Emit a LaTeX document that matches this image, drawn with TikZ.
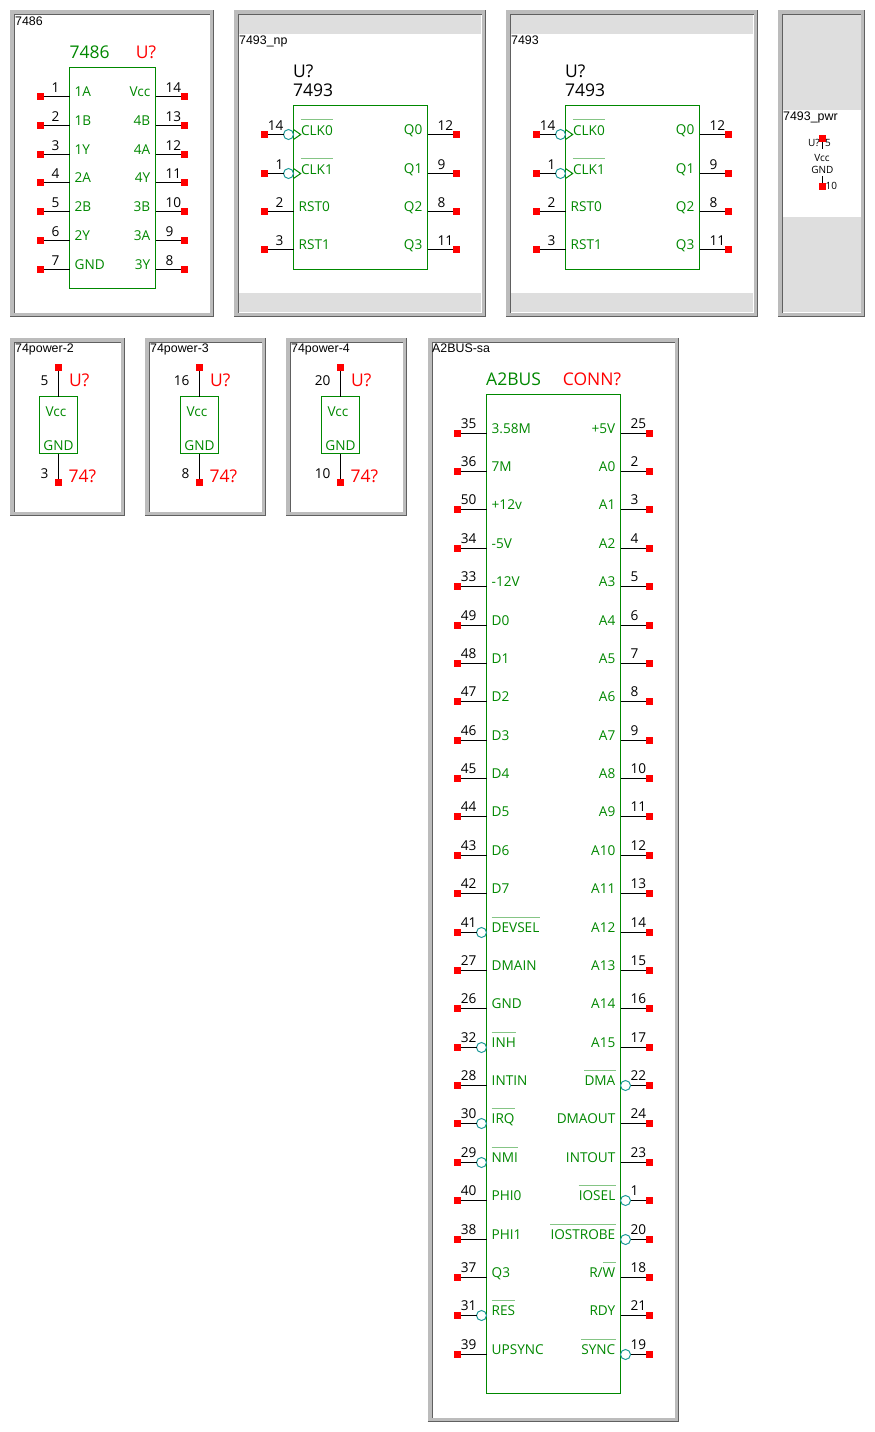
\documentclass[tikz,border=0pt]{standalone}
\usepackage{fontspec}
\usetikzlibrary{positioning}
\setmainfont{Open Sans}
\newfontfamily\titlefont{Liberation Sans}
\definecolor{partgreen}{HTML}{008800}
\definecolor{barsgreen}{HTML}{85C585}
\definecolor{bubbleteal}{HTML}{1F9A9A}
\definecolor{framelight}{HTML}{BCBCBC}
\definecolor{framedark}{HTML}{606060}
\definecolor{stripgray}{HTML}{DEDEDE}

\newcommand{\numlift}{4.3pt}
% sunken panel frame: x0, y0, x1, y1
\newcommand{\panelframe}[4]{%
  \fill[framelight] (#1,#2) rectangle (#3,#4);
  \fill[white] (#1+4,#2+4) rectangle (#3-4,#4-4);
  \draw[framedark] (#1,#4-.5) -- (#3-.5,#4-.5) -- (#3-.5,#2);
  \draw[framedark] (#1+4.5,#4-4) -- (#1+4.5,#2+4.5) -- (#3-4,#2+4.5);
}
% pins: body, id, y, number, label
\newcommand{\pinleft}[5]{%
  \node[pinpad] (#2) at ([xshift=-29pt]#1.west |- 0,#3) {};
  \draw[wire] (#2) -- (#1.west |- #2);
  \node[pinnum, anchor=base east] at ([xshift=-10pt,yshift=\numlift]#1.west |- #2) {#4};
  \node[pinlab, anchor=base west] (#2l) at ([xshift=5pt]#1.west |- #2) {#5};
}
\newcommand{\pinright}[5]{%
  \node[pinpad] (#2) at ([xshift=29pt]#1.east |- 0,#3) {};
  \draw[wire] (#2) -- (#1.east |- #2);
  \node[pinnum, anchor=base west] at ([xshift=10pt,yshift=\numlift]#1.east |- #2) {#4};
  \node[pinlab, anchor=base east] (#2l) at ([xshift=-5pt]#1.east |- #2) {#5};
}
\newcommand{\notleft}[5]{%
  \node[pinpad] (#2) at ([xshift=-29pt]#1.west |- 0,#3) {};
  \node[bubble] (#2n) at ([xshift=-5pt]#1.west |- #2) {};
  \draw[wire] (#2) -- (#2n);
  \node[pinnum, anchor=base east] at ([xshift=-10pt,yshift=\numlift]#1.west |- #2) {#4};
  \node[pinlab, anchor=base west] (#2l) at ([xshift=5pt]#1.west |- #2) {#5};
  \draw[overbar] ([yshift=15pt]#2l.base west) -- ([yshift=15pt]#2l.base east);
}
\newcommand{\notright}[5]{%
  \node[pinpad] (#2) at ([xshift=29pt]#1.east |- 0,#3) {};
  \node[bubble] (#2n) at ([xshift=5pt]#1.east |- #2) {};
  \draw[wire] (#2) -- (#2n);
  \node[pinnum, anchor=base west] at ([xshift=10pt,yshift=\numlift]#1.east |- #2) {#4};
  \node[pinlab, anchor=base east] (#2l) at ([xshift=-5pt]#1.east |- #2) {#5};
  \draw[overbar] ([yshift=15pt]#2l.base west) -- ([yshift=15pt]#2l.base east);
}
\newcommand{\clockleft}[5]{%
  \node[pinpad] (#2) at ([xshift=-29pt]#1.west |- 0,#3) {};
  \node[bubble] (#2n) at ([xshift=-5pt]#1.west |- #2) {};
  \draw[wire] (#2) -- (#2n);
  \node[pinnum, anchor=base east] at ([xshift=-10pt,yshift=\numlift]#1.west |- #2) {#4};
  \node[pinlab, anchor=base west] (#2l) at ([xshift=7.4pt,yshift=-.5pt]#1.west |- #2) {#5};
  \draw[overbar] ([yshift=15.5pt]#2l.base west) -- ([yshift=15.5pt]#2l.base east);
  \draw[chipline] ([yshift=5pt]#1.west |- #2) -- ([xshift=7.2pt]#1.west |- #2) -- ([yshift=-5pt]#1.west |- #2);
}

\begin{document}
\begin{tikzpicture}[
  x=1pt, y=-1pt,
  chipline/.style = {partgreen, line width=1pt},
  chipbody/.style = {draw=partgreen, line width=1pt, inner sep=0pt, outer sep=0pt, anchor=north west},
  wire/.style = {black, line width=1pt},
  overbar/.style = {barsgreen, line width=1pt},
  pinpad/.style = {fill=red, minimum size=7pt, inner sep=0pt, outer sep=0pt},
  bubble/.style = {circle, draw=bubbleteal, line width=1pt, minimum size=10pt, inner sep=0pt, outer sep=0pt},
  pinnum/.style = {font=\fontsize{13.6}{13.6}\selectfont, text=black, inner sep=0pt},
  pinlab/.style = {font=\fontsize{13.6}{13.6}\selectfont, text=partgreen, inner sep=0pt},
  partname/.style = {font=\fontsize{17.5}{17.5}\selectfont, inner sep=0pt, anchor=base west},
  paneltitle/.style = {font=\titlefont\fontsize{12.4}{12.4}\selectfont, text=black, inner sep=0pt, anchor=base west},
  tinytext/.style = {font=\fontsize{10}{10}\selectfont, text=black, inner sep=0pt}
]
  \useasboundingbox (0,0) rectangle (875,1432);
  \fill[white] (0,0) rectangle (875,1432);

  % 7486
  \panelframe{10}{10}{213.5}{316.5}
  \node[paneltitle] (t7486) at (15,25) {7486};
  \node[chipbody, minimum width=86pt, minimum height=221pt] (u7486) at (69.5,67.5) {};
  \node[partname, text=partgreen] (n7486) at (69.3,58) {7486};
  \node[partname, text=red] (r7486) at (135.7,58) {U?};
  \foreach \n/\py/\txt in {1/96.5/1A, 2/125.5/1B, 3/154.5/1Y, 4/182.5/2A, 5/211.5/2B, 6/240.5/2Y, 7/269.5/GND}
    {\pinleft{u7486}{a\n}{\py}{\n}{\txt}}
  \foreach \n/\py/\txt in {14/96.5/Vcc, 13/125.5/4B, 12/154.5/4A, 11/182.5/4Y, 10/211.5/3B, 9/240.5/3A, 8/269.5/3Y}
    {\pinright{u7486}{a\n}{\py}{\n}{\txt}}

  % 7493 and 7493_np
  \foreach \id/\dx/\ttl in {np/0/7493\_np, pl/272/7493} {
    \begin{scope}[xshift=\dx pt]
      \panelframe{234}{10}{485.5}{316.5}
      \fill[stripgray] (239,15) rectangle (481,34);
      \fill[stripgray] (239,293) rectangle (481,312);
      \node[paneltitle] (t\id) at (239,44.5) {\ttl};
      \node[chipbody, minimum width=134pt, minimum height=164pt] (u\id) at (293.5,105.5) {};
      \node[partname, text=black] (r\id) at (293,77.3) {U?};
      \node[partname, text=black] (n\id) at (293,96.5) {7493};
      \clockleft{u\id}{\id a}{134.5}{14}{CLK0}
      \clockleft{u\id}{\id b}{173.5}{1}{CLK1}
      \pinleft{u\id}{\id c}{211.5}{2}{RST0}
      \pinleft{u\id}{\id d}{249.5}{3}{RST1}
      \pinright{u\id}{\id e}{134.5}{12}{Q0}
      \pinright{u\id}{\id f}{173.5}{9}{Q1}
      \pinright{u\id}{\id g}{211.5}{8}{Q2}
      \pinright{u\id}{\id h}{249.5}{11}{Q3}
    \end{scope}
  }

  % 7493_pwr
  \panelframe{778}{10}{864.5}{316.5}
  \fill[stripgray] (783,15) rectangle (860.5,110);
  \fill[stripgray] (783,216.7) rectangle (860.5,312);
  \node[paneltitle] (tpwr) at (783,120.3) {7493\_pwr};
  \node[pinpad] (ptop) at (822.5,138.5) {};
  \node[pinpad] (pbot) at (822.5,186) {};
  \coordinate (ctop) at (822.5,148.7);
  \coordinate (cbot) at (822.5,176);
  \draw[wire] (ptop) -- (ctop);
  \draw[wire] (pbot) -- (cbot);
  \node[tinytext] (rpwr) at (813.8,142.7) {U?};
  \node[tinytext] (ntop) at (828,142.7) {5};
  \node[tinytext] (lvcc) at (822,157.7) {Vcc};
  \node[tinytext] (lgnd) at (822.3,170) {GND};
  \node[tinytext] (nbot) at (831.3,186) {10};

  % 74power-2, 74power-3, 74power-4
  \foreach \n/\cx/\numa/\numb/\lft in {2/58.5/5/3/10, 3/199.5/16/8/145, 4/340.5/20/10/286} {
    \panelframe{\lft}{337.5}{\cx+66.2}{515.5}
    \node[paneltitle] (tp\n) at (\lft+5,352.5) {74power-\n};
    \node[chipbody, minimum width=38pt, minimum height=57pt] (up\n) at (\cx-19,396.5) {};
    \node[pinpad] (pa\n) at (\cx,367.5) {};
    \node[pinpad] (pb\n) at (\cx,482.5) {};
    \draw[wire] (pa\n) -- (pa\n |- up\n.north);
    \draw[wire] (pb\n) -- (pb\n |- up\n.south);
    \node[pinnum, anchor=base east] (na\n) at (\cx-10,385.3) {\numa};
    \node[pinnum, anchor=base east] (nb\n) at (\cx-10,478) {\numb};
    \node[partname, text=red] (rp\n) at (\cx+10.5,386) {U?};
    \node[partname, text=red] (vp\n) at (\cx+10,482) {74?};
    \node[pinlab, anchor=base] (lv\n) at (\cx-2.5,416) {Vcc};
    \node[pinlab, anchor=base] (lg\n) at (\cx,450) {GND};
  }

  % A2BUS-sa
  \renewcommand{\numlift}{5.2pt}
  \panelframe{427.5}{337.5}{679}{1421.5}
  \node[paneltitle] (tbus) at (432,352.5) {A2BUS-sa};
  \node[chipbody, minimum width=134pt, minimum height=999pt] (ubus) at (486.5,394.5) {};
  \node[partname, text=partgreen] (nbus) at (486,385) {A2BUS};
  \node[partname, text=red] (rbus) at (562.7,385) {CONN?};
  \foreach \n/\txt/\kind [count=\i from 0] in {35/3.58M/pinleft, 36/7M/pinleft, 50/+12v/pinleft, 34/-5V/pinleft,
      33/-12V/pinleft, 49/D0/pinleft, 48/D1/pinleft, 47/D2/pinleft, 46/D3/pinleft, 45/D4/pinleft, 44/D5/pinleft,
      43/D6/pinleft, 42/D7/pinleft, 41/DEVSEL/notleft, 27/DMAIN/pinleft, 26/GND/pinleft, 32/INH/notleft,
      28/INTIN/pinleft, 30/IRQ/notleft, 29/NMI/notleft, 40/PHI0/pinleft, 38/PHI1/pinleft, 37/Q3/pinleft,
      31/RES/notleft, 39/UPSYNC/pinleft} {
    \pgfmathsetmacro\py{floor(433.2+38.375*\i)+.5}
    \csname\kind\endcsname{ubus}{bl\n}{\py}{\n}{\txt}
  }
  \foreach \n/\txt/\kind [count=\i from 0] in {25/+5V/pinright, 2/A0/pinright, 3/A1/pinright, 4/A2/pinright,
      5/A3/pinright, 6/A4/pinright, 7/A5/pinright, 8/A6/pinright, 9/A7/pinright, 10/A8/pinright, 11/A9/pinright,
      12/A10/pinright, 13/A11/pinright, 14/A12/pinright, 15/A13/pinright, 16/A14/pinright, 17/A15/pinright,
      22/DMA/notright, 24/DMAOUT/pinright, 23/INTOUT/pinright, 1/IOSEL/notright, 20/IOSTROBE/notright,
      18/{R/W}/pinright, 21/RDY/pinright, 19/SYNC/notright} {
    \pgfmathsetmacro\py{floor(433.2+38.375*\i)+.5}
    \csname\kind\endcsname{ubus}{br\n}{\py}{\n}{\txt}
  }
  \draw[overbar] ([xshift=-13pt,yshift=15pt]br18l.base east) -- ([yshift=15pt]br18l.base east);
\end{tikzpicture}
\end{document}
